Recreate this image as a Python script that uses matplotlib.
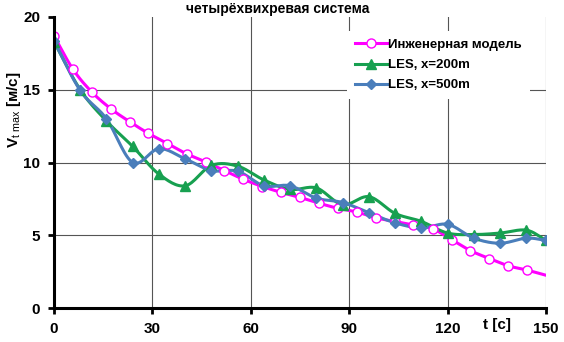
import numpy as np
import matplotlib
matplotlib.use("Agg")
import matplotlib.pyplot as plt


# Данные
t_model = [0, 5.8, 11.5, 17.3, 23.1, 28.8, 34.6, 40.4, 46.2, 51.9, 57.7, 63.5, 69.2,
           75.0, 80.8, 86.6, 92.3, 98.1, 103.9, 109.6, 115.4, 121.2, 126.9, 132.7,
           138.5, 144.3, 150]
v_model = [18.7, 16.4, 14.85, 13.7, 12.8, 12.0, 11.3, 10.6, 10.05, 9.45, 8.85, 8.35,
           7.95, 7.6, 7.2, 6.85, 6.6, 6.2, 5.95, 5.7, 5.45, 4.7, 3.95, 3.4, 2.9, 2.6,
           2.25]

t_les = [0, 8, 16, 24, 32, 40, 48, 56, 64, 72, 80, 88, 96, 104, 112, 120, 128, 136,
         144, 150]
v_les200 = [18.3, 15.0, 12.85, 11.1, 9.2, 8.4, 9.8, 9.75, 8.8, 8.15, 8.25, 7.1, 7.65,
            6.5, 5.95, 5.15, 5.05, 5.15, 5.35, 4.65]
v_les500 = [18.35, 14.95, 13.0, 10.0, 10.95, 10.25, 9.45, 9.4, 8.4, 8.4, 7.55, 7.25,
            6.55, 5.85, 5.5, 5.75, 4.8, 4.45, 4.8, 4.65]

labels = ["Инженерная модель", "LES, x=200m", "LES, x=500m"]
TITLE = "четырёхвихревая система"

# Стиль
C_MODEL = "#FF00FF"
C_200 = "#17A050"
C_500 = "#4A7EBB"
FONT = "Liberation Sans"

plt.rcParams["font.family"] = [FONT, "DejaVu Sans"]
plt.rcParams["mathtext.fontset"] = "custom"
plt.rcParams["mathtext.rm"] = FONT
plt.rcParams["mathtext.it"] = FONT + ":italic"


def smooth(x, y, n=16):
    """Сглаживание как в Excel (Catmull-Rom)."""
    x = np.asarray(x, float)
    y = np.asarray(y, float)
    px = np.concatenate([[2 * x[0] - x[1]], x, [2 * x[-1] - x[-2]]])
    py = np.concatenate([[2 * y[0] - y[1]], y, [2 * y[-1] - y[-2]]])
    s = np.linspace(0, 1, n, endpoint=False)
    xs, ys = [], []
    for i in range(1, len(px) - 2):
        for p, out in ((px, xs), (py, ys)):
            p0, p1, p2, p3 = p[i - 1], p[i], p[i + 1], p[i + 2]
            out.extend(0.5 * (2 * p1 + (-p0 + p2) * s
                              + (2 * p0 - 5 * p1 + 4 * p2 - p3) * s ** 2
                              + (-p0 + 3 * p1 - 3 * p2 + p3) * s ** 3))
    xs.append(x[-1])
    ys.append(y[-1])
    return np.array(xs), np.array(ys)


fig = plt.figure(figsize=(5.64, 3.42), dpi=100)
ax = fig.add_axes([54 / 564, 1 - 308 / 342, 492 / 564, 291 / 342])

series = [
    (t_model, v_model, C_MODEL, dict(marker="o", mfc="white", mec=C_MODEL, ms=6.5, mew=1)),
    (t_les, v_les200, C_200, dict(marker="^", mfc=C_200, mec=C_200, ms=6.5)),
    (t_les, v_les500, C_500, dict(marker="D", mfc=C_500, mec=C_500, ms=5)),
]

handles = []
for (tx, vy, col, mk), lab in zip(series, labels):
    sx, sy = smooth(tx, vy)
    ax.plot(sx, sy, color=col, lw=2.2, zorder=3, solid_capstyle="round")
    n_mark = len(tx) - 1 if col == C_MODEL else len(tx)
    ax.plot(tx[:n_mark], vy[:n_mark], ls="none", zorder=4, **mk)
    h, = ax.plot([], [], color=col, lw=2.2, **mk)
    handles.append(h)

ax.set_xlim(0, 150)
ax.set_ylim(0, 20)
ax.set_xticks([0, 30, 60, 90, 120, 150])
ax.set_yticks([0, 5, 10, 15, 20])

ax.grid(True, color="#555555", lw=0.8)
ax.yaxis.get_gridlines()[-1].set_visible(False)
ax.set_axisbelow(True)

for side in ["top", "right"]:
    ax.spines[side].set_visible(False)
for side in ["left", "bottom"]:
    ax.spines[side].set_linewidth(2.2)
    ax.spines[side].set_zorder(5)

ax.tick_params(direction="out", length=4, width=2, pad=6, labelsize=11)
for lab in ax.get_xticklabels() + ax.get_yticklabels():
    lab.set_fontweight("bold")

ax.set_ylabel(r"V$_{\mathrm{t\ max}}$ [м/с]", fontsize=11, fontweight="bold")
ax.yaxis.set_label_coords(-0.063, 0.68)

ax.text(135, -1.2, "t [c]", fontsize=11, fontweight="bold",
        ha="center", va="center", clip_on=False)

fig.text(278 / 564, 1 - 9 / 342, TITLE, fontsize=10, fontweight="bold",
         ha="center", va="center")

leg = ax.legend(handles, labels, loc="upper right", bbox_to_anchor=(0.98, 0.975),
                frameon=True, fancybox=False, edgecolor="none", facecolor="white",
                framealpha=1, handlelength=2.4, handletextpad=0.1,
                labelspacing=0.6, borderpad=0.6, prop=dict(family=FONT, weight="bold", size=9.5))
leg.set_zorder(6)

fig.savefig("out.png", dpi=100)
